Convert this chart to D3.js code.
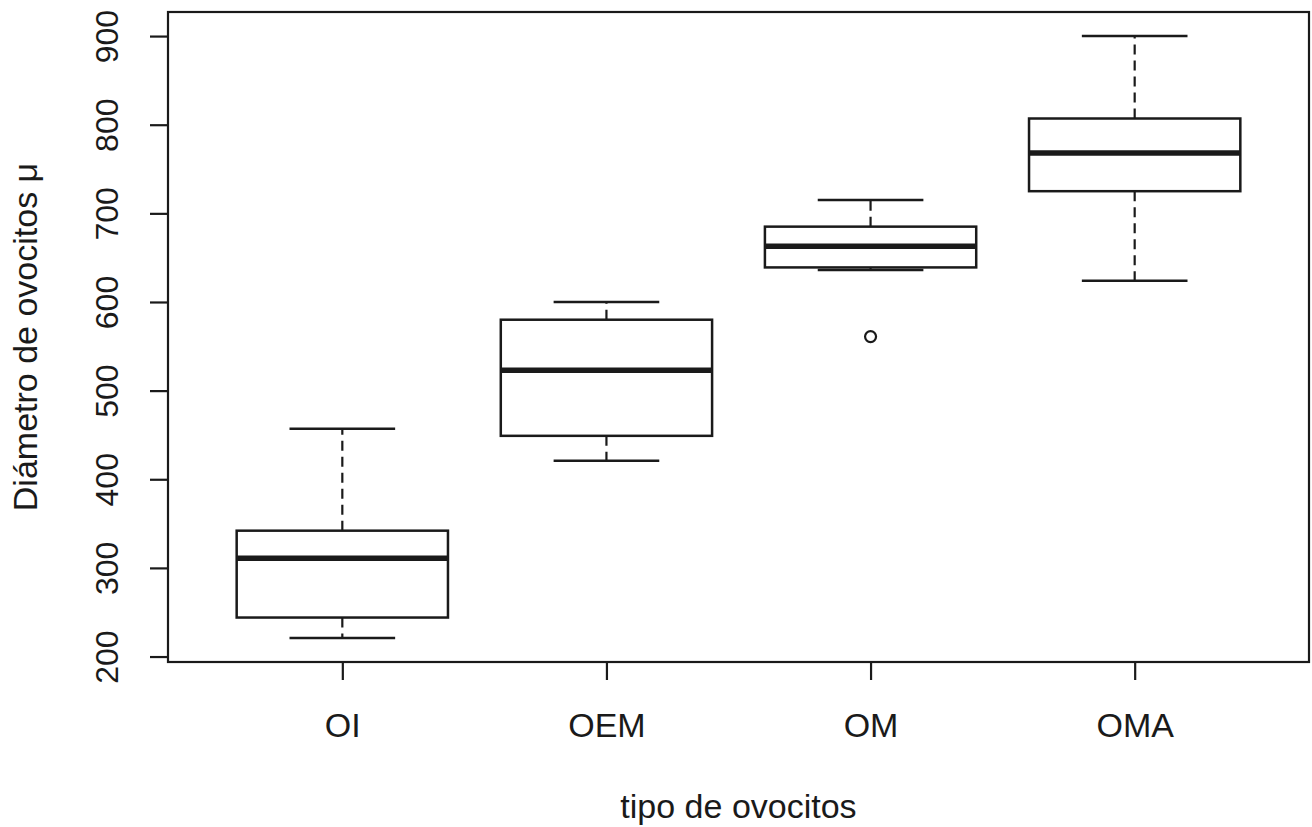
<!DOCTYPE html>
<html>
<head>
<meta charset="utf-8">
<script src="https://cdn.jsdelivr.net/npm/d3@7"></script>
<style>
  body { margin: 0; background: #fff; }
  text { font-family: "Liberation Sans", Arial, sans-serif; fill: #1a1a1a; }
</style>
</head>
<body>
<div id="vis"></div>
<script>
// Data (boxplot stats per group)
var categories = ["OI", "OEM", "OM", "OMA"];
var whiskerLow = [221, 421, 636, 624];
var q1 = [244, 449, 639, 725];
var median = [311, 523, 663, 768];
var q3 = [342, 580, 685, 807];
var whiskerHigh = [457, 600, 715, 900];
var outliers = [[], [], [561], []];
var yTicks = [200, 300, 400, 500, 600, 700, 800, 900];

var xTitle = "tipo de ovocitos";
var yTitle = "Diámetro de ovocitos μ";

var width = 1312, height = 827;
var plot = {left: 168, right: 1309, top: 12, bottom: 662};

var lo = d3.min(whiskerLow.concat(d3.merge(outliers)));
var hi = d3.max(whiskerHigh.concat(d3.merge(outliers)));
var pad = (hi - lo) * 0.04;

// R style: groups at 1..n, range 0.5..n+0.5 plus 4% expansion
var n = categories.length;
var xpad = n * 0.04;
var x = d3.scaleLinear().domain([0.5 - xpad, n + 0.5 + xpad]).range([plot.left, plot.right]);
var y = d3.scaleLinear().domain([lo - pad, hi + pad]).range([plot.bottom, plot.top]);

var boxwex = 0.8;
var stroke = "#1a1a1a";

var svg = d3.select("#vis").append("svg")
    .attr("width", width)
    .attr("height", height);

svg.append("rect")
    .attr("width", width)
    .attr("height", height)
    .attr("fill", "#fff");

var groups = categories.map(function(c, i) {
    return {name: c, pos: i + 1, lw: whiskerLow[i], q1: q1[i], med: median[i],
            q3: q3[i], hw: whiskerHigh[i], out: outliers[i]};
});

var g = svg.selectAll("g.box")
    .data(groups)
    .enter().append("g")
    .attr("class", "box");

// whiskers (dashed)
g.append("line")
    .attr("x1", function(d) { return x(d.pos); })
    .attr("x2", function(d) { return x(d.pos); })
    .attr("y1", function(d) { return y(d.q3); })
    .attr("y2", function(d) { return y(d.hw); })
    .attr("stroke", stroke)
    .attr("stroke-width", 2.2)
    .attr("stroke-dasharray", "10,6");

g.append("line")
    .attr("x1", function(d) { return x(d.pos); })
    .attr("x2", function(d) { return x(d.pos); })
    .attr("y1", function(d) { return y(d.q1); })
    .attr("y2", function(d) { return y(d.lw); })
    .attr("stroke", stroke)
    .attr("stroke-width", 2.2)
    .attr("stroke-dasharray", "10,6");

// staples
["hw", "lw"].forEach(function(k) {
    g.append("line")
        .attr("x1", function(d) { return x(d.pos - boxwex / 4); })
        .attr("x2", function(d) { return x(d.pos + boxwex / 4); })
        .attr("y1", function(d) { return y(d[k]); })
        .attr("y2", function(d) { return y(d[k]); })
        .attr("stroke", stroke)
        .attr("stroke-width", 2.5);
});

// box
g.append("rect")
    .attr("x", function(d) { return x(d.pos - boxwex / 2); })
    .attr("y", function(d) { return y(d.q3); })
    .attr("width", function(d) { return x(d.pos + boxwex / 2) - x(d.pos - boxwex / 2); })
    .attr("height", function(d) { return y(d.q1) - y(d.q3); })
    .attr("fill", "#fff")
    .attr("stroke", stroke)
    .attr("stroke-width", 2.5);

// median
g.append("line")
    .attr("x1", function(d) { return x(d.pos - boxwex / 2); })
    .attr("x2", function(d) { return x(d.pos + boxwex / 2); })
    .attr("y1", function(d) { return y(d.med); })
    .attr("y2", function(d) { return y(d.med); })
    .attr("stroke", stroke)
    .attr("stroke-width", 5.5);

// outliers
g.selectAll("circle")
    .data(function(d) { return d.out.map(function(v) { return {pos: d.pos, v: v}; }); })
    .enter().append("circle")
    .attr("cx", function(d) { return x(d.pos); })
    .attr("cy", function(d) { return y(d.v); })
    .attr("r", 5.5)
    .attr("fill", "none")
    .attr("stroke", stroke)
    .attr("stroke-width", 2.2);

// frame
svg.append("rect")
    .attr("x", plot.left)
    .attr("y", plot.top)
    .attr("width", plot.right - plot.left)
    .attr("height", plot.bottom - plot.top)
    .attr("fill", "none")
    .attr("stroke", stroke)
    .attr("stroke-width", 2.2);

// y axis
var yAxis = svg.append("g")
    .attr("transform", "translate(" + plot.left + ",0)")
    .call(d3.axisLeft(y).tickValues(yTicks).tickSize(18).tickFormat(d3.format("d")));
yAxis.select(".domain").remove();
yAxis.selectAll(".tick line").attr("stroke", stroke).attr("stroke-width", 2.2);
yAxis.selectAll(".tick text")
    .attr("transform", "rotate(-90)")
    .attr("x", 0)
    .attr("y", -50)
    .attr("dy", 0)
    .attr("text-anchor", "middle")
    .style("font-size", "32px")
    .style("font-family", "Liberation Sans, Arial, sans-serif")
    .attr("fill", "#1a1a1a");

// x axis
var xAxis = svg.append("g")
    .attr("transform", "translate(0," + plot.bottom + ")")
    .call(d3.axisBottom(x).tickValues(d3.range(1, n + 1)).tickSize(18)
        .tickFormat(function(d) { return categories[d - 1]; }));
xAxis.select(".domain").remove();
xAxis.selectAll(".tick line").attr("stroke", stroke).attr("stroke-width", 2.2);
xAxis.selectAll(".tick text")
    .attr("y", 75)
    .attr("dy", 0)
    .style("font-size", "34px")
    .style("font-family", "Liberation Sans, Arial, sans-serif")
    .attr("fill", "#1a1a1a");

// titles
svg.append("text")
    .attr("x", (plot.left + plot.right) / 2)
    .attr("y", 818)
    .attr("text-anchor", "middle")
    .style("font-size", "34px")
    .text(xTitle);

svg.append("text")
    .attr("transform", "translate(37," + (plot.top + plot.bottom) / 2 + ") rotate(-90)")
    .attr("text-anchor", "middle")
    .style("font-size", "34px")
    .text(yTitle);
</script>
</body>
</html>
